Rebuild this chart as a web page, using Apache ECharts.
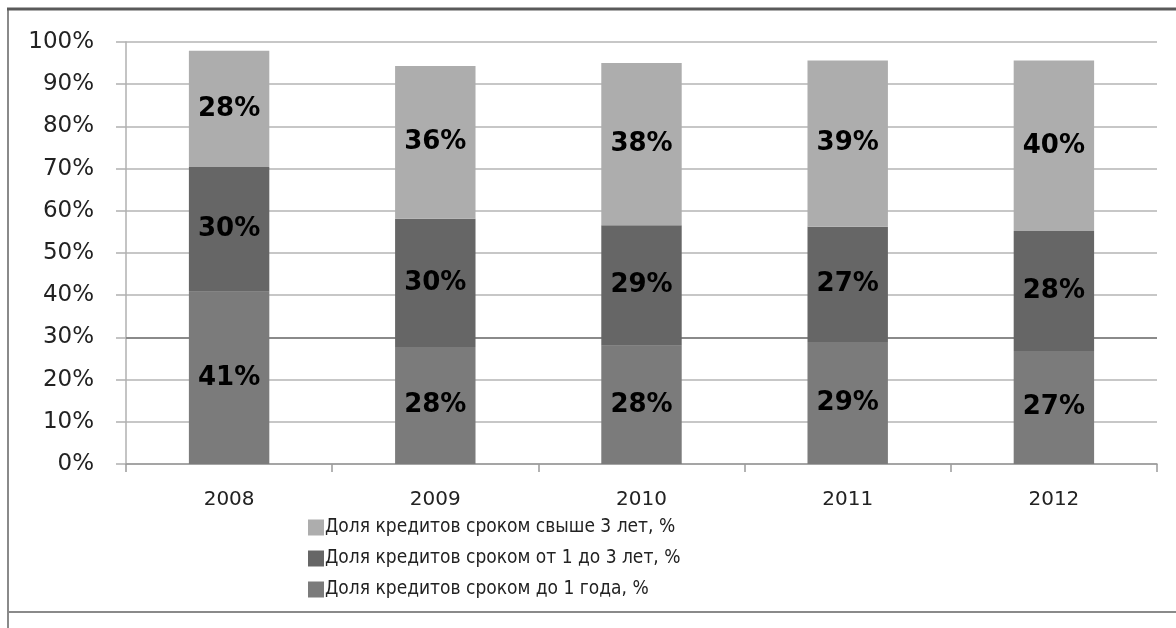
<!DOCTYPE html>
<html>
<head>
<meta charset="utf-8">
<script src="https://cdn.jsdelivr.net/npm/echarts@6/dist/echarts.min.js"></script>
<style>html,body{margin:0;padding:0;background:#fff;}#c{width:1176px;height:628px;}</style>
</head>
<body>
<div id="c"></div>
<script>
const categories = ['2008', '2009', '2010', '2011', '2012'];
const seriesNames = [
  'Доля кредитов сроком до 1 года, %',
  'Доля кредитов сроком от 1 до 3 лет, %',
  'Доля кредитов сроком свыше 3 лет, %'
];
const shortTerm = [40.8, 27.7, 28.0, 28.9, 26.8];
const midTerm = [29.6, 30.4, 28.6, 27.3, 28.4];
const longTerm = [27.5, 36.2, 38.4, 39.4, 40.4];
const yTicks = [0, 10, 20, 30, 40, 50, 60, 70, 80, 90, 100];
const highlightLevel = 30;

const colors = ['#7b7b7b', '#666666', '#adadad'];
const labelStyle = {
  show: true, position: 'inside', color: '#000',
  fontFamily: 'DejaVu Sans', fontWeight: 'bold', fontSize: 26,
  formatter: p => Math.round(p.value) + '%'
};
function mk(name, data, color, extra) {
  return Object.assign({
    name, type: 'bar', stack: 'total', data, barWidth: '39%', z: 3,
    itemStyle: { color }, label: labelStyle
  }, extra || {});
}
const chart = echarts.init(document.getElementById('c'));
chart.setOption({
  animation: false,
  backgroundColor: '#fff',
  grid: { left: 126, right: 19, top: 42, bottom: 164 },
  legend: {
    orient: 'vertical', left: 303, top: 513, itemGap: 12,
    itemWidth: 16, itemHeight: 16, icon: 'rect',
    data: [seriesNames[2], seriesNames[1], seriesNames[0]],
    textStyle: { fontFamily: 'Liberation Sans Narrow, DejaVu Sans Condensed, sans-serif', fontSize: 19, color: '#222', padding: [0, 0, 0, -4] }
  },
  xAxis: {
    type: 'category', data: categories,
    axisLine: { lineStyle: { color: '#9a9a9a', width: 1.5 } },
    axisTick: { show: true, length: 8, lineStyle: { color: '#9a9a9a', width: 1.5 } },
    axisLabel: { fontFamily: 'DejaVu Sans', fontSize: 20, color: '#222', margin: 26 }
  },
  yAxis: {
    type: 'value', min: 0, max: 100, interval: 10,
    axisLine: { show: true, lineStyle: { color: '#b0b0b0', width: 1.5 } },
    axisTick: { show: true, length: 10, lineStyle: { color: '#b0b0b0', width: 1.5 } },
    splitLine: { lineStyle: { color: '#b4b4b4', width: 1.5 } },
    axisLabel: {
      fontFamily: 'DejaVu Sans', fontSize: 23, color: '#222', margin: 32,
      formatter: v => yTicks.indexOf(v) >= 0 ? v + '%' : ''
    }
  },
  series: [
    mk(seriesNames[0], shortTerm, colors[0]),
    mk(seriesNames[1], midTerm, colors[1]),
    mk(seriesNames[2], longTerm, colors[2]),
    {
      type: 'line', data: [], z: 1, silent: true,
      markLine: {
        z: 1, silent: true, symbol: 'none', label: { show: false },
        lineStyle: { color: '#8a8a8a', width: 2, type: 'solid' },
        data: [{ yAxis: highlightLevel }]
      }
    }
  ],
  graphic: [
    { type: 'line', shape: { x1: 8, y1: 9, x2: 8, y2: 628 }, style: { stroke: '#8a8a8a', lineWidth: 2 } },
    { type: 'line', shape: { x1: 7, y1: 9, x2: 1176, y2: 9 }, style: { stroke: '#5a5a5a', lineWidth: 3 } },
    { type: 'line', shape: { x1: 8, y1: 612, x2: 1176, y2: 612 }, style: { stroke: '#8a8a8a', lineWidth: 2 } }
  ]
});
</script>
</body>
</html>
